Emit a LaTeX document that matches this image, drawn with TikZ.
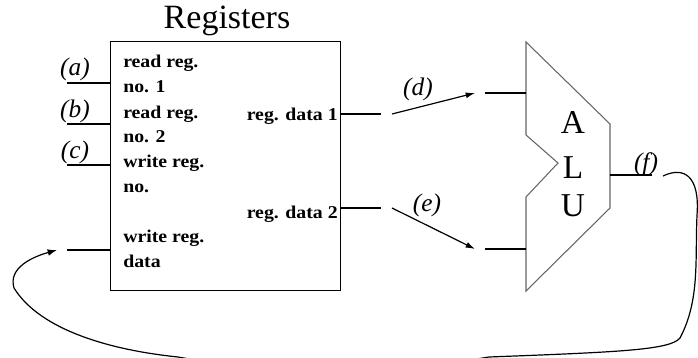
\documentclass[tikz,border=0pt]{standalone}
\usepackage{fontspec}
\setmainfont{Liberation Serif}
\newfontfamily\pinfont[FakeStretch=1.1]{Liberation Serif}
\usetikzlibrary{arrows.meta}
\begin{document}
\begin{tikzpicture}[x=0.75pt,y=-0.75pt,
  wire/.style={line width=0.9pt},
  unitline/.style={draw=gray!80!black, line width=0.8pt},
  pinlabel/.style={font=\pinfont\bfseries\fontsize{13.5}{15}\selectfont, anchor=base west, inner sep=0pt},
  outlabel/.style={pinlabel, anchor=base east},
  tagtext/.style={font=\itshape\fontsize{19}{22}\selectfont, anchor=base, inner sep=0pt},
  aluletter/.style={font=\fontsize{25}{30}\selectfont, anchor=base, inner sep=0pt},
  busarrow/.style={line width=0.9pt, -{Latex[length=7pt,width=4.5pt]}},
  feedback/.style={line width=0.9pt, -{Latex[length=7pt,width=5pt]}}]
\useasboundingbox (0,0) rectangle (698,357);
\clip (0,0) rectangle (698,357);

% register file
\node[draw, line width=0.9pt, minimum width=172.5pt, minimum height=186.75pt,
      anchor=north west, inner sep=0pt] (reg) at (110,41) {};
\node[font=\fontsize{25.5}{30}\selectfont, anchor=base, inner sep=0pt] (title) at (227,28) {Registers};

\node[pinlabel] (r1a) at (123,67)  {read reg.};
\node[pinlabel] (r1b) at (123,92)  {no. 1};
\node[pinlabel] (r2a) at (123,118) {read reg.};
\node[pinlabel] (r2b) at (123,142) {no. 2};
\node[pinlabel] (wra) at (123,167) {write reg.};
\node[pinlabel] (wrb) at (123,192) {no.};
\node[pinlabel] (wda) at (123,242) {write reg.};
\node[pinlabel] (wdb) at (123,267) {data};
\node[outlabel] (rd1) at (338,120) {reg. data 1};
\node[outlabel] (rd2) at (338,218) {reg. data 2};

% register inputs
\coordinate (ain)  at (110,83);  \coordinate (aend) at (67,83);
\coordinate (bin)  at (110,124); \coordinate (bend) at (67,124);
\coordinate (cin)  at (110,165); \coordinate (cend) at (67,165);
\coordinate (din)  at (110,250); \coordinate (dend) at (67,250);
\draw[wire] (aend) -- (ain);
\draw[wire] (bend) -- (bin);
\draw[wire] (cend) -- (cin);
\draw[wire] (dend) -- (din);
\node[tagtext] (ta) at (75,75)  {(a)};
\node[tagtext] (tb) at (75,117) {(b)};
\node[tagtext] (tc) at (75,158) {(c)};

% register outputs
\coordinate (o1) at (340,114); \coordinate (o1e) at (381,114);
\coordinate (o2) at (340,208); \coordinate (o2e) at (381,208);
\draw[wire] (o1) -- (o1e);
\draw[wire] (o2) -- (o2e);

% ALU
\coordinate (alu1) at (526,42);
\coordinate (alu2) at (610,124);
\coordinate (alu3) at (610,208);
\coordinate (alu4) at (526,291);
\coordinate (alu5) at (526,197);
\coordinate (alu6) at (558,163);
\coordinate (alu7) at (526,135);
\draw[unitline] (alu1) -- (alu2) -- (alu3) -- (alu4) -- (alu5) -- (alu6) -- (alu7) -- cycle;
\node[aluletter] (la) at (573,133) {A};
\node[aluletter] (ll) at (573,178) {L};
\node[aluletter] (lu) at (573,216) {U};

\coordinate (i1s) at (485,93);  \coordinate (i1) at (526,93);
\coordinate (i2s) at (485,249); \coordinate (i2) at (526,249);
\draw[wire] (i1s) -- (i1);
\draw[wire] (i2s) -- (i2);
\coordinate (fo) at (610,175); \coordinate (foe) at (652,175);
\draw[wire] (fo) -- (foe);

% transfers between the units
\coordinate (d0) at (392,114); \coordinate (d1) at (475,93);
\coordinate (e0) at (392,208); \coordinate (e1) at (475,249);
\draw[busarrow] (d0) -- (d1);
\draw[busarrow] (e0) -- (e1);
\node[tagtext] (td) at (418,95)  {(d)};
\node[tagtext] (te) at (427,211) {(e)};
\node[tagtext] (tf) at (646,170) {(f)};

% result fed back to the write-data port; its lowest stretch runs off the page
\coordinate (fb0) at (663,176);
\coordinate (fb1) at (57,250);
\draw[feedback] (fb0) .. controls (684,166) and (700,176) .. (697,215)
  .. controls (695,260) and (700,300) .. (680,338)
  .. controls (670,350) and (620,352) .. (489,357)
  .. controls (400,372) and (260,372) .. (178,357)
  .. controls (110,350) and (40,330) .. (14,288)
  .. controls (8,268) and (32,257) .. (fb1);
\end{tikzpicture}
\end{document}
